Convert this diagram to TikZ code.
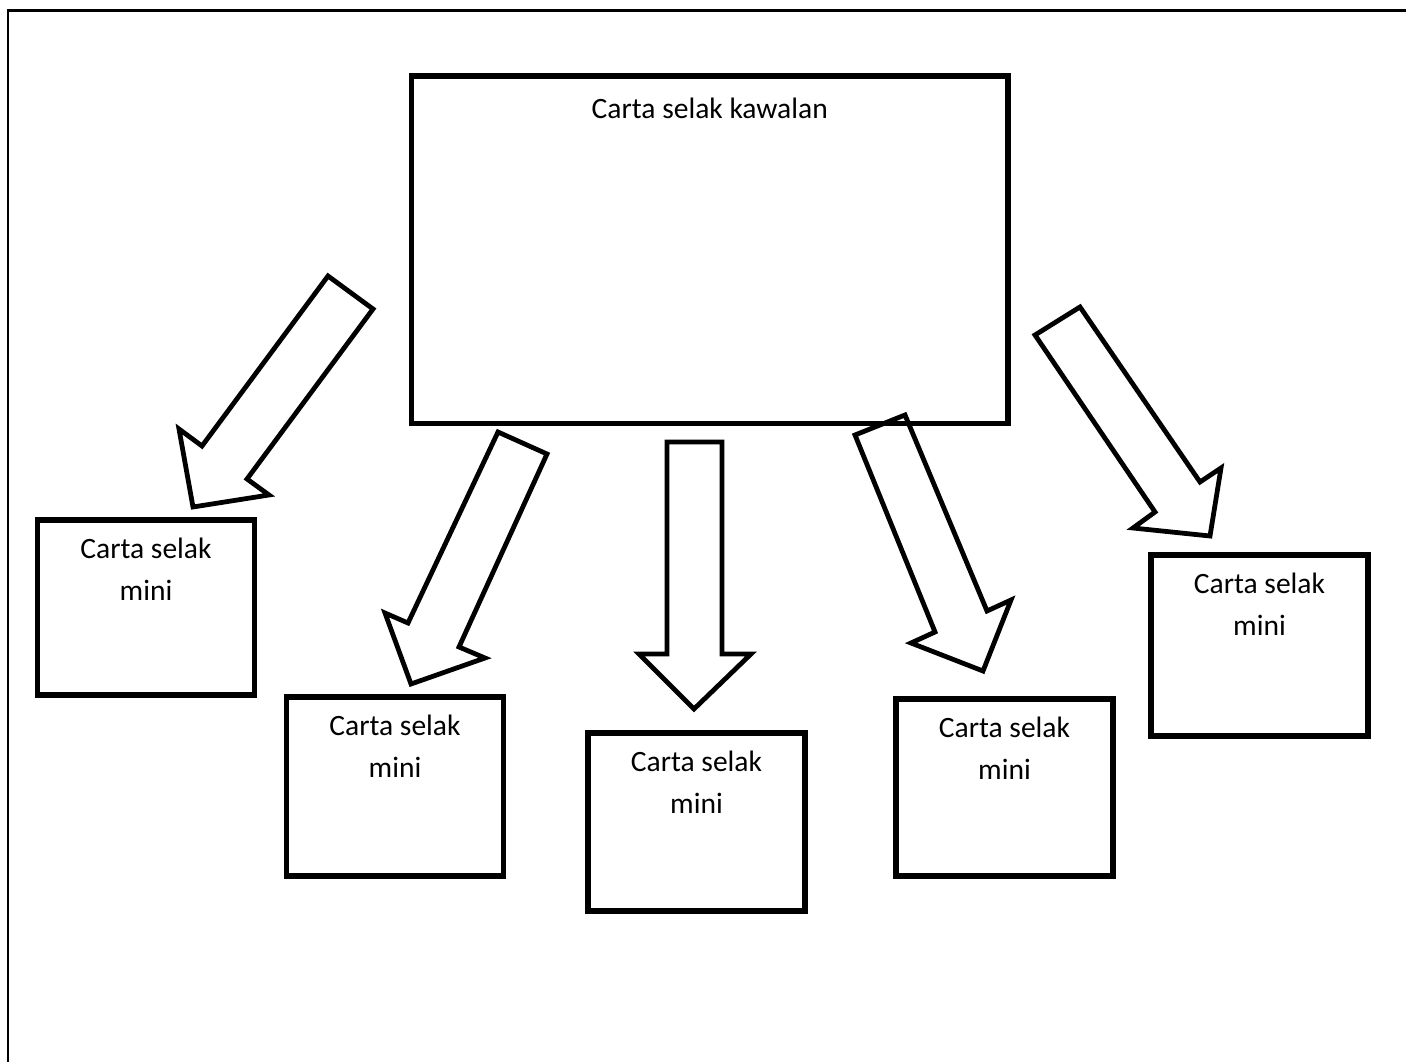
\documentclass[tikz,border=0pt]{standalone}
\usepackage{fontspec}
\setmainfont{Carlito}
\usetikzlibrary{positioning}

\tikzset{
  pageframe/.style={line width=1.6pt},
  bigbox/.style={draw,line width=3.9pt,inner sep=0pt,
    minimum width=14.91cm,minimum height=8.69cm},
  minibox/.style={draw,line width=3.9pt,inner sep=0pt,
    minimum width=5.43cm,minimum height=4.45cm},
  boxtext/.style={font=\fontsize{21}{29.5}\selectfont,align=center,inner sep=0pt},
  fatarrow/.style={line width=3.4pt,line join=miter}
}

\begin{document}
\begin{tikzpicture}[x=0.025cm,y=-0.025cm]
\useasboundingbox (0,0) rectangle (1406,1062);
% page frame (only top and left edges show)
\draw[pageframe] (8,1062) -- (8,10.5) -- (1406,10.5);
% ================= main chart =================
\node[bigbox] (main) at (709.75,249.75) {};
\node[boxtext,below=1.13cm of main.north,anchor=base] (maintext) {Carta selak kawalan};
% ================= mini charts =================
\node[minibox,minimum height=4.375cm] (mini1) at (146,607.5) {};
\node[minibox,minimum height=4.475cm] (mini2) at (395,786.5) {};
\node[minibox] (mini3) at (696.5,822) {};
\node[minibox,minimum height=4.425cm] (mini4) at (1004.5,787.5) {};
\node[minibox,minimum height=4.525cm] (mini5) at (1259.5,645.5) {};
% base anchor sits on the last line (mini)
\node[boxtext,below=2.07cm of mini1.north,anchor=base] (text1) {Carta selak\\mini};
\node[boxtext,below=2.07cm of mini2.north,anchor=base] (text2) {Carta selak\\mini};
\node[boxtext,below=2.07cm of mini3.north,anchor=base] (text3) {Carta selak\\mini};
\node[boxtext,below=2.07cm of mini4.north,anchor=base] (text4) {Carta selak\\mini};
\node[boxtext,below=2.07cm of mini5.north,anchor=base] (text5) {Carta selak\\mini};
% ================= block arrows =================
% to mini 1
\draw[fatarrow] (328,276) -- (373,309) -- (247,479) -- (269,495) -- (193,507)
  -- (179,429) -- (202,446) -- cycle;
% to mini 2
\draw[fatarrow] (498,432) -- (547,454) -- (459,647) -- (485,658) -- (411,684)
  -- (385,613) -- (408,623) -- cycle;
% to mini 3
\draw[fatarrow] (667,442) -- (722,442) -- (722,654) -- (751,654) -- (694,709)
  -- (639,654) -- (667,654) -- cycle;
% to mini 4
\draw[fatarrow] (855,435) -- (905,415) -- (987,611) -- (1011,600) -- (983,671)
  -- (911,643) -- (935,632) -- cycle;
% to mini 5
\draw[fatarrow] (1035,335) -- (1080,307) -- (1200,482) -- (1221,468) -- (1210,536)
  -- (1133,528) -- (1155,512) -- cycle;
\end{tikzpicture}
\end{document}
